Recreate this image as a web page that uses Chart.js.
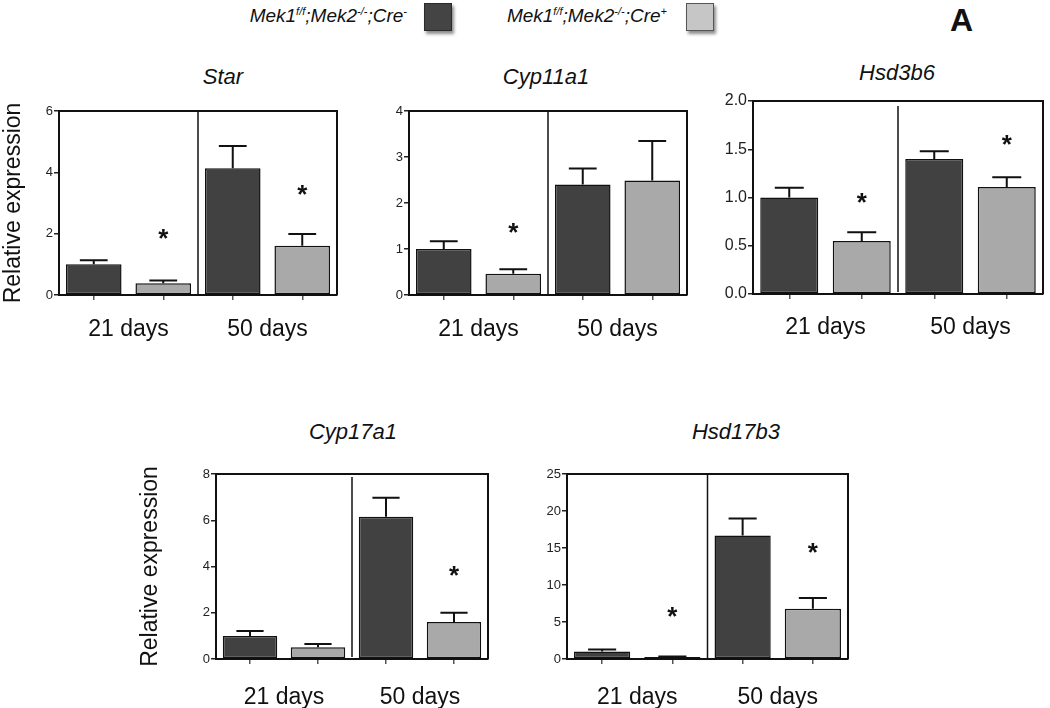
<!DOCTYPE html>
<html>
<head>
<meta charset="utf-8">
<script src="https://cdn.jsdelivr.net/npm/chart.js@4.4.1/dist/chart.umd.min.js"></script>
<style>
  body { margin: 0; background: #fff; width: 1050px; height: 708px; position: relative; overflow: hidden; font-family: 'Liberation Sans', Arial, sans-serif; color: #111; }
  canvas { position: absolute; }
  .title { position: absolute; width: 200px; text-align: center; font-style: italic; font-size: 22px; line-height: 22px; }
  .leg { position: absolute; font-style: italic; font-size: 19px; line-height: 19px; white-space: nowrap; }
  .leg sup { font-size: 11px; line-height: 0; vertical-align: 7px; }
  .sw { position: absolute; width: 26px; height: 26px; box-shadow: 2px 3px 3px rgba(0,0,0,.45); }
  .tag { position: absolute; left: 950px; top: 2px; font-weight: bold; font-size: 32px; line-height: 36px; }
</style>
</head>
<body>

<div class="leg" style="right:643px; top:6px">Mek1<sup>f/f</sup>;Mek2<sup>-/-</sup>;Cre<sup>-</sup></div>
<div class="sw" style="left:424px; top:3px; background:#444; border:1px solid #2a2a2a"></div>
<div class="leg" style="right:383px; top:6px">Mek1<sup>f/f</sup>;Mek2<sup>-/-</sup>;Cre<sup>+</sup></div>
<div class="sw" style="left:686px; top:3px; background:#c6c6c6; border:1px solid #555"></div>
<div class="tag">A</div>

<script>
// categories / series
const groups = ['21 days', '50 days'];
const barSlots = ['21 Cre-', '21 Cre+', '50 Cre-', '50 Cre+'];
const genotypes = ['Mek1f/f;Mek2-/-;Cre-', 'Mek1f/f;Mek2-/-;Cre+'];

// Star
const starNeg = [1.0, 4.13];
const starPos = [0.38, 1.61];
const starNegSem = [0.13, 0.73];
const starPosSem = [0.09, 0.38];
const starNegSig = [null, null];
const starPosSig = [2.06, 3.48];

// Cyp11a1
const cyp11Neg = [1.0, 2.40];
const cyp11Pos = [0.46, 2.49];
const cyp11NegSem = [0.17, 0.35];
const cyp11PosSem = [0.10, 0.86];
const cyp11NegSig = [null, null];
const cyp11PosSig = [1.50, null];

// Hsd3b6
const hsd3Neg = [1.0, 1.40];
const hsd3Pos = [0.55, 1.11];
const hsd3NegSem = [0.10, 0.08];
const hsd3PosSem = [0.09, 0.10];
const hsd3NegSig = [null, null];
const hsd3PosSig = [1.02, 1.62];

// Cyp17a1
const cyp17Neg = [1.0, 6.15];
const cyp17Pos = [0.51, 1.60];
const cyp17NegSem = [0.21, 0.82];
const cyp17PosSem = [0.14, 0.40];
const cyp17NegSig = [null, null];
const cyp17PosSig = [null, 3.9];

// Hsd17b3
const hsd17Neg = [1.0, 16.7];
const hsd17Pos = [0.28, 6.8];
const hsd17NegSem = [0.3, 2.3];
const hsd17PosSem = [0.07, 1.45];
const hsd17NegSig = [null, null];
const hsd17PosSig = [6.6, 15.3];

const regular = "'Liberation Sans', Arial, sans-serif";
const darkFill = '#414141';
const lightFill = '#a9a9a9';

// panel layout (plot box in page pixels)
const panels = [
  { gene: 'Star', neg: starNeg, pos: starPos, negSem: starNegSem, posSem: starPosSem, negSig: starNegSig, posSig: starPosSig,
    max: 6, step: 2, dec: 0, tick: 13, box: [59, 111, 278, 184], yw: 59, ytitle: true, pad: 15, divTop: 0, tx: 223, ty: 66 },
  { gene: 'Cyp11a1', neg: cyp11Neg, pos: cyp11Pos, negSem: cyp11NegSem, posSem: cyp11PosSem, negSig: cyp11NegSig, posSig: cyp11PosSig,
    max: 4, step: 1, dec: 0, tick: 13, box: [409, 111, 278, 184], yw: 45, ytitle: false, pad: 15, divTop: 0, tx: 546, ty: 66 },
  { gene: 'Hsd3b6', neg: hsd3Neg, pos: hsd3Pos, negSem: hsd3NegSem, posSem: hsd3PosSem, negSig: hsd3NegSig, posSig: hsd3PosSig,
    max: 2, step: 0.5, dec: 1, tick: 16, box: [753, 101, 290, 193], yw: 50, ytitle: false, pad: 14, divTop: 5, tx: 897, ty: 62 },
  { gene: 'Cyp17a1', neg: cyp17Neg, pos: cyp17Pos, negSem: cyp17NegSem, posSem: cyp17PosSem, negSig: cyp17NegSig, posSig: cyp17PosSig,
    max: 8, step: 2, dec: 0, tick: 13, box: [216, 474, 272, 185], yw: 79, ytitle: true, pad: 19, divTop: 3, tx: 353, ty: 421 },
  { gene: 'Hsd17b3', neg: hsd17Neg, pos: hsd17Pos, negSem: hsd17NegSem, posSem: hsd17PosSem, negSig: hsd17NegSig, posSig: hsd17PosSig,
    max: 25, step: 5, dec: 0, tick: 13, box: [567, 474, 281, 185], yw: 45, ytitle: false, pad: 19, divTop: 0, tx: 736, ty: 421 }
];

// error bars, asterisks, divider and frame
const extras = {
  id: 'extras',
  afterDatasetsDraw(chart, args, opts) {
    const ctx = chart.ctx;
    const a = chart.chartArea;
    const y = chart.scales.y;
    const x = chart.scales.x;
    ctx.save();
    ctx.strokeStyle = '#111';
    ctx.lineWidth = 2;

    // frame top + right
    ctx.beginPath();
    ctx.moveTo(a.left, a.top);
    ctx.lineTo(a.right, a.top);
    ctx.lineTo(a.right, a.bottom);
    ctx.stroke();

    // divider between the two ages
    const mid = (x.getPixelForValue(0) + x.getPixelForValue(1)) / 2;
    ctx.lineWidth = 1.5;
    ctx.beginPath();
    ctx.moveTo(mid, a.top + opts.divTop);
    ctx.lineTo(mid, a.bottom - (opts.divTop ? 2 : 0));
    ctx.stroke();

    ctx.lineWidth = 2;
    chart.data.datasets.forEach((ds, i) => {
      const meta = chart.getDatasetMeta(i);
      meta.data.forEach((bar, j) => {
        const top = y.getPixelForValue(ds.data[j] + ds.sem[j]);
        const half = bar.width / 4;
        ctx.beginPath();
        ctx.moveTo(bar.x, bar.y);
        ctx.lineTo(bar.x, top);
        ctx.moveTo(bar.x - half, top);
        ctx.lineTo(bar.x + half, top);
        ctx.stroke();
        if (ds.sig[j] != null) {
          ctx.fillStyle = '#111';
          ctx.font = 'bold 26px ' + regular;
          ctx.textAlign = 'center';
          ctx.textBaseline = 'alphabetic';
          ctx.fillText('*', bar.x, y.getPixelForValue(ds.sig[j]) + 15);
        }
      });
    });
    ctx.restore();
  }
};

panels.forEach(p => {
  const [L, T, W, H] = p.box;
  const padTop = 12, padRight = 8, bottomH = 56;
  const cv = document.createElement('canvas');
  const cw = p.yw + W + padRight;
  const ch = padTop + H + bottomH;
  cv.width = cw; cv.height = ch;
  cv.style.left = (L - p.yw) + 'px';
  cv.style.top = (T - padTop) + 'px';
  cv.style.width = cw + 'px';
  cv.style.height = ch + 'px';
  document.body.appendChild(cv);

  const t = document.createElement('div');
  t.className = 'title';
  t.style.left = (p.tx - 100) + 'px';
  t.style.top = p.ty + 'px';
  t.textContent = p.gene;
  document.body.appendChild(t);

  new Chart(cv, {
    type: 'bar',
    data: {
      labels: groups,
      datasets: [
        { label: genotypes[0], data: p.neg, sem: p.negSem, sig: p.negSig, backgroundColor: darkFill,
          borderColor: '#111', borderWidth: 1.5, borderSkipped: false, xAxisID: 'x' },
        { label: genotypes[1], data: p.pos, sem: p.posSem, sig: p.posSig, backgroundColor: lightFill,
          borderColor: '#111', borderWidth: 1.5, borderSkipped: false, xAxisID: 'x' }
      ]
    },
    options: {
      responsive: false,
      animation: false,
      events: [],
      categoryPercentage: 1.0,
      barPercentage: 0.8,
      layout: { padding: { top: padTop, right: padRight, left: 0, bottom: 0 } },
      plugins: {
        legend: { display: false },
        tooltip: { enabled: false },
        extras: { divTop: p.divTop }
      },
      scales: {
        y: {
          min: 0, max: p.max,
          ticks: { stepSize: p.step, padding: 1, color: '#222', font: { size: p.tick, family: regular },
                   callback: v => v.toFixed(p.dec) },
          grid: { drawOnChartArea: false, tickLength: 5, color: '#222', lineWidth: 1.5 },
          border: { color: '#111', width: 2 },
          title: { display: p.ytitle, text: 'Relative expression', color: '#111', padding: 0,
                   font: { size: 23, family: regular } },
          afterFit: s => { s.width = p.yw; }
        },
        xt: {
          type: 'category', labels: barSlots, position: 'bottom', offset: true, weight: 0,
          grid: { offset: false, drawOnChartArea: false, tickLength: 5, color: '#555', lineWidth: 1.5 },
          border: { color: '#111', width: 2 },
          ticks: { display: false },
          afterFit: s => { s.height = 6; }
        },
        x: {
          type: 'category', position: 'bottom', offset: true, weight: 1,
          grid: { display: false, drawTicks: false },
          border: { display: false },
          ticks: { padding: p.pad, color: '#111', font: { size: 23, family: regular } },
          afterFit: s => { s.height = bottomH - 6; }
        }
      }
    },
    plugins: [extras]
  });
});
</script>
</body>
</html>
